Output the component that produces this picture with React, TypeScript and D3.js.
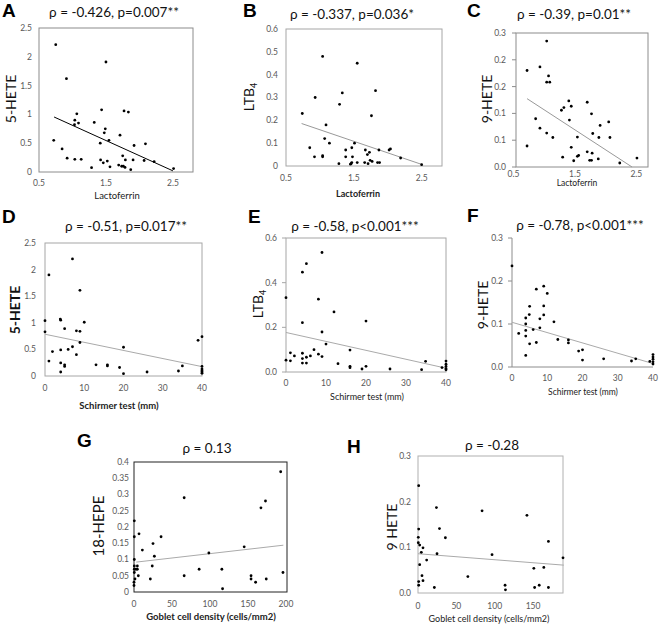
import React from 'react';
import * as d3 from 'd3';

// ---------- data ----------
const aX = [0.75,1.5,0.91,1.435,1.77,1.835,1.065,1.035,1.09,1.03,1.325,1.49,1.475,1.71,0.72,1.545,1.415,2.09,1.92,0.845,1.75,0.92,1.035,1.13,1.42,1.52,1.79,1.905,2.07,2.22,1.46,1.69,1.735,1.76,1.785,1.285,1.56,1.87,2.51];
const aY = [2.21,1.91,1.62,1.08,1.06,1.04,1.01,0.90,0.85,0.82,0.86,0.75,0.68,0.64,0.55,0.55,0.50,0.49,0.46,0.40,0.28,0.24,0.22,0.22,0.21,0.19,0.21,0.21,0.20,0.18,0.16,0.12,0.10,0.10,0.08,0.075,0.09,0.04,0.06];
const aTrendX = [0.725, 2.5];
const aTrendY = [0.955, 0.02];

const bX = [1.04,1.55,0.93,1.33,1.82,1.29,0.74,1.76,1.09,1.07,1.14,1.51,0.85,1.47,0.92,1.04,1.04,1.38,1.67,1.73,1.87,2.02,2.04,2.19,1.38,1.48,1.70,1.28,1.46,1.47,1.55,1.66,1.71,1.77,1.85,1.88,1.74,2.5,1.45];
const bY = [0.48,0.45,0.30,0.32,0.33,0.27,0.23,0.22,0.18,0.12,0.10,0.10,0.08,0.08,0.04,0.045,0.04,0.07,0.07,0.06,0.07,0.07,0.075,0.035,0.04,0.04,0.05,0.01,0.01,0.015,0.015,0.015,0.01,0.02,0.015,0.015,0.025,0.006,0.008];
const bTrendX = [0.73, 2.5];
const bTrendY = [0.186, 0.007];

const cX = [1.04,0.93,1.07,1.04,1.09,0.86,0.93,1.04,1.14,0.72,0.72,1.28,1.32,1.40,1.44,1.41,1.44,1.48,1.54,1.56,1.54,1.70,1.77,1.79,1.78,1.70,1.74,1.77,1.88,1.89,1.91,2.05,2.07,1.30,2.23,2.51];
const cY = [0.282,0.224,0.204,0.19,0.19,0.108,0.087,0.076,0.066,0.216,0.047,0.127,0.133,0.148,0.136,0.105,0.044,0.014,0.024,0.026,0.067,0.145,0.119,0.075,0.031,0.034,0.015,0.015,0.018,0.066,0.093,0.101,0.066,0.022,0.009,0.020];
const cTrendX = [0.72, 2.43];
const cTrendY = [0.153, 0];

const dX = [7,1,8.9,0,3.9,4,10,5,0,8,8.9,8.9,7,20,1.9,4,5.9,8,1,4,5,5,13,15.9,15.9,19,4,20,26,34,35,39,40,40,40,40,40,40];
const dY = [2.20,1.90,1.61,1.04,1.07,1.05,1.01,0.89,0.83,0.85,0.84,0.63,0.55,0.54,0.46,0.49,0.50,0.40,0.28,0.245,0.21,0.18,0.21,0.21,0.19,0.16,0.075,0.044,0.075,0.094,0.19,0.67,0.74,0.18,0.13,0.10,0.075,0.05];
const dTrendX = [0, 40];
const dTrendY = [0.785, 0.176];

const eX = [9,5.1,4.1,0,8.1,12,20,4.1,9,10,16,7,4.1,1.1,8.1,2.1,6.1,5.1,9,4.1,0,1.1,4.1,5.1,13,16,16,20,19,26,33.9,34.9,40,40,40,40,40,39];
const eY = [0.535,0.485,0.447,0.333,0.326,0.269,0.228,0.221,0.179,0.125,0.098,0.10,0.084,0.086,0.080,0.072,0.072,0.066,0.069,0.06,0.053,0.05,0.04,0.04,0.0375,0.0255,0.0195,0.0255,0.0135,0.0135,0.0105,0.048,0.049,0.035,0.025,0.015,0.01,0.02];
const eTrendX = [0, 40];
const eTrendY = [0.177, 0.017];

const fX = [0,9,6.9,10,5,9,4.9,9,3.9,7.9,11.9,3.9,6,7.9,3.9,1.9,3.9,6.9,5,13,16,16,18.9,20,20,3.9,26,33.9,35.1,39.1,40,40,40,40,40];
const fY = [0.235,0.188,0.181,0.171,0.141,0.142,0.122,0.121,0.114,0.112,0.105,0.10,0.087,0.091,0.085,0.078,0.072,0.057,0.054,0.064,0.063,0.056,0.037,0.040,0.016,0.027,0.019,0.014,0.019,0.013,0.029,0.023,0.018,0.012,0.007];
const fTrendX = [0, 40];
const fTrendY = [0.104, 0.008];

const gX = [193,66,173,167,0.4,6.6,0.4,35.6,25,11,145,98.5,26.8,0.4,0.4,4.4,24,0.4,2.6,4.4,85.7,115.6,0.4,196,5.7,66,154,154,174,21.5,1.3,160,0,0,116.5];
const gY = [0.37,0.29,0.28,0.259,0.219,0.179,0.17,0.17,0.149,0.129,0.139,0.12,0.11,0.10,0.08,0.08,0.08,0.07,0.07,0.07,0.07,0.07,0.06,0.06,0.05,0.05,0.05,0.04,0.04,0.04,0.04,0.03,0.03,0.02,0.01];
const gTrendX = [3, 196.5];
const gTrendY = [0.092, 0.144];

const hX = [0.9,24,83.5,142,0.9,28,35.7,0.4,170,0.4,2.2,6.5,4.3,24.8,96.5,189,11.3,2.2,164,151,5.2,65,6.5,0.9,0.9,158,113.5,21.3,152,170,114];
const hY = [0.235,0.187,0.18,0.17,0.14,0.141,0.121,0.122,0.113,0.11,0.105,0.099,0.089,0.086,0.084,0.077,0.072,0.062,0.056,0.054,0.038,0.036,0.027,0.025,0.017,0.017,0.017,0.012,0.012,0.012,0.007];
const hTrendX = [0, 190];
const hTrendY = [0.086, 0.061];

// tick values
const lactoTicks = [0.5, 1.5, 2.5];
const schirmerTicks = [0, 10, 20, 30, 40];
const gobletTicksG = [0, 50, 100, 150, 200];
const gobletTicksH = [0, 50, 100, 150];
const hete5Ticks = [0, 0.5, 1, 1.5, 2, 2.5];
const ltbTicksB = [0, 0.1, 0.2, 0.3, 0.4, 0.5, 0.6];
const ltbTicksE = [0, 0.2, 0.4, 0.6];
const hete9TicksC = [0, 0.06, 0.12, 0.18, 0.24, 0.3];
const hete9TicksF = [0, 0.1, 0.2, 0.3];
const hepeTicks = [0, 0.05, 0.1, 0.15, 0.2, 0.25, 0.3, 0.35, 0.4];

const titles = ['ρ = -0.426, p=0.007**', 'ρ = -0.337, p=0.036*', 'ρ = -0.39, p=0.01**', 'ρ = -0.51, p=0.017**', 'ρ = -0.58, p<0.001***', 'ρ = -0.78, p<0.001***', 'ρ = 0.13', 'ρ = -0.28'];

const FONT = 'Lato, "Open Sans", sans-serif';
const TICKC = '#595959';

const fmtPlain = (v: number) => String(v);
const fmt1 = d3.format('.1f');

type Cfg = {
  letter: string; lx: number; ly: number;
  title: string; tx: number; ty: number;
  left: number; right: number; top: number; bottom: number;
  xDomain: number[]; yDomain: number[];
  xTicks: number[]; yTicks: number[];
  xFmt: (v: number) => string; yFmt: (v: number) => string;
  xs: number[]; ys: number[]; trX: number[]; trY: number[];
  trendColor: string;
  xLabel: string; xlx: number; xly: number; xBold: boolean; xSize: number;
  yLabel: string; ySub?: string; ylx: number; yly: number; yBold: boolean; ySize: number;
  box: 'full' | 'lb'; boxColor: string; yTickMarks: boolean;
  yGap: number; xOff: number;
};

function Panel({ c }: { c: Cfg }) {
  const x = d3.scaleLinear().domain(c.xDomain).range([c.left, c.right]);
  const y = d3.scaleLinear().domain(c.yDomain).range([c.bottom, c.top]);
  const line = d3.line<number>().x((_, i) => x(c.trX[i])).y((_, i) => y(c.trY[i]));
  return (
    <g>
      <text x={c.lx} y={c.ly} fontFamily='"Liberation Sans", Arial, sans-serif' fontWeight="bold" fontSize={19}>{c.letter}</text>
      <text x={c.tx} y={c.ty} textAnchor="middle" fontFamily={FONT} fontSize={13.5} fill="#111">{c.title}</text>
      {c.box === 'full' ? (
        <rect x={c.left} y={c.top} width={c.right - c.left} height={c.bottom - c.top} fill="none" stroke={c.boxColor} strokeWidth={1} />
      ) : (
        <path d={`M${c.left},${c.top}V${c.bottom}H${c.right}`} fill="none" stroke={c.boxColor} strokeWidth={1} />
      )}
      {c.yTicks.map((t, i) => (
        <g key={'y' + i}>
          {c.yTickMarks && <line x1={c.left - 4} x2={c.left} y1={y(t)} y2={y(t)} stroke={c.boxColor} />}
          <text x={c.left - c.yGap} y={y(t)} dy="0.35em" textAnchor="end" fontFamily={FONT} fontSize={8.5} fill={TICKC}>{c.yFmt(t)}</text>
        </g>
      ))}
      {c.xTicks.map((t, i) => (
        <text key={'x' + i} x={x(t)} y={c.bottom + c.xOff} textAnchor="middle" fontFamily={FONT} fontSize={8.5} fill={TICKC}>{c.xFmt(t)}</text>
      ))}
      <path d={line(c.trX) || ''} fill="none" stroke={c.trendColor} strokeWidth={1} />
      {c.xs.map((v, i) => (
        <circle key={'p' + i} cx={x(v)} cy={y(c.ys[i])} r={1.4} fill="#000" />
      ))}
      <text x={c.xlx} y={c.xly} textAnchor="middle" fontFamily={FONT} fontSize={c.xSize} fontWeight={c.xBold ? 'bold' : 'normal'} fill="#222">{c.xLabel}</text>
      <text transform={`translate(${c.ylx},${c.yly}) rotate(-90)`} textAnchor="middle" dy="0.35em" fontFamily={FONT} fontSize={c.ySize} fontWeight={c.yBold ? 'bold' : 'normal'} fill="#111">
        {c.yLabel}
        {c.ySub && <tspan fontSize={c.ySize * 0.65} dy="0.3em">{c.ySub}</tspan>}
      </text>
    </g>
  );
}

const panels: Cfg[] = [
  {
    letter: 'A', lx: 2, ly: 17, title: titles[0], tx: 114, ty: 17,
    left: 39, right: 193, top: 28, bottom: 172, xDomain: [0.5, 2.8], yDomain: [0, 2.5],
    xTicks: lactoTicks, yTicks: hete5Ticks, xFmt: fmtPlain, yFmt: fmtPlain,
    xs: aX, ys: aY, trX: aTrendX, trY: aTrendY, trendColor: '#000',
    xLabel: 'Lactoferrin', xlx: 117, xly: 199, xBold: false, xSize: 9.5,
    yLabel: '5-HETE', ylx: 11, yly: 99, yBold: false, ySize: 14,
    box: 'full', boxColor: '#8c8c8c', yTickMarks: false, yGap: 7, xOff: 14,
  },
  {
    letter: 'B', lx: 243, ly: 17, title: titles[1], tx: 352, ty: 19,
    left: 286, right: 442, top: 29, bottom: 166, xDomain: [0.5, 2.8], yDomain: [0, 0.6],
    xTicks: lactoTicks, yTicks: ltbTicksB, xFmt: fmtPlain, yFmt: fmtPlain,
    xs: bX, ys: bY, trX: bTrendX, trY: bTrendY, trendColor: '#999',
    xLabel: 'Lactoferrin', xlx: 358, xly: 197, xBold: true, xSize: 9,
    yLabel: 'LTB', ySub: '4', ylx: 249, yly: 97, yBold: false, ySize: 14,
    box: 'full', boxColor: '#a6a6a6', yTickMarks: false, yGap: 8, xOff: 15,
  },
  {
    letter: 'C', lx: 467, ly: 17, title: titles[2], tx: 574, ty: 19,
    left: 516, right: 648, top: 33, bottom: 167, xDomain: [0.54, 2.69], yDomain: [0, 0.3],
    xTicks: lactoTicks, yTicks: hete9TicksC, xFmt: fmtPlain, yFmt: fmt1,
    xs: cX, ys: cY, trX: cTrendX, trY: cTrendY, trendColor: '#999',
    xLabel: 'Lactoferrin', xlx: 577, xly: 186, xBold: false, xSize: 8.5,
    yLabel: '9-HETE', ylx: 487, yly: 99, yBold: false, ySize: 14,
    box: 'full', boxColor: '#8c8c8c', yTickMarks: true, yGap: 10, xOff: 10,
  },
  {
    letter: 'D', lx: 2, ly: 223, title: titles[3], tx: 126, ty: 231,
    left: 45, right: 202, top: 243, bottom: 376, xDomain: [0, 40], yDomain: [0, 2.5],
    xTicks: schirmerTicks, yTicks: hete5Ticks, xFmt: fmtPlain, yFmt: fmtPlain,
    xs: dX, ys: dY, trX: dTrendX, trY: dTrendY, trendColor: '#aaa',
    xLabel: 'Schirmer test (mm)', xlx: 119, xly: 409, xBold: true, xSize: 9.5,
    yLabel: '5-HETE', ylx: 15, yly: 310, yBold: true, ySize: 14,
    box: 'full', boxColor: '#a6a6a6', yTickMarks: false, yGap: 9, xOff: 15,
  },
  {
    letter: 'E', lx: 248, ly: 223, title: titles[4], tx: 355, ty: 231,
    left: 286, right: 446, top: 238, bottom: 372, xDomain: [0, 40], yDomain: [0, 0.6],
    xTicks: schirmerTicks, yTicks: ltbTicksE, xFmt: fmtPlain, yFmt: fmt1,
    xs: eX, ys: eY, trX: eTrendX, trY: eTrendY, trendColor: '#aaa',
    xLabel: 'Schirmer test (mm)', xlx: 367, xly: 400, xBold: false, xSize: 9,
    yLabel: 'LTB', ySub: '4', ylx: 258, yly: 304, yBold: false, ySize: 14,
    box: 'full', boxColor: '#a6a6a6', yTickMarks: true, yGap: 9, xOff: 14,
  },
  {
    letter: 'F', lx: 467, ly: 222, title: titles[5], tx: 580, ty: 230,
    left: 512, right: 653, top: 238, bottom: 367, xDomain: [0, 40], yDomain: [0, 0.3],
    xTicks: schirmerTicks, yTicks: hete9TicksF, xFmt: fmtPlain, yFmt: fmt1,
    xs: fX, ys: fY, trX: fTrendX, trY: fTrendY, trendColor: '#aaa',
    xLabel: 'Schirmer test (mm)', xlx: 583, xly: 395, xBold: false, xSize: 8.5,
    yLabel: '9-HETE', ylx: 483, yly: 305, yBold: false, ySize: 14,
    box: 'lb', boxColor: '#8c8c8c', yTickMarks: true, yGap: 9, xOff: 14,
  },
  {
    letter: 'G', lx: 77, ly: 447, title: titles[6], tx: 207, ty: 453,
    left: 134, right: 287, top: 462, bottom: 592, xDomain: [0, 201.3], yDomain: [0, 0.4],
    xTicks: gobletTicksG, yTicks: hepeTicks, xFmt: fmtPlain, yFmt: fmtPlain,
    xs: gX, ys: gY, trX: gTrendX, trY: gTrendY, trendColor: '#aaa',
    xLabel: 'Goblet cell density (cells/mm2)', xlx: 211, xly: 620, xBold: true, xSize: 9.5,
    yLabel: '18-HEPE', ylx: 99, yly: 526, yBold: false, ySize: 15,
    box: 'full', boxColor: '#222', yTickMarks: false, yGap: 5, xOff: 15,
  },
  {
    letter: 'H', lx: 347, ly: 453, title: titles[7], tx: 492, ty: 450,
    left: 418, right: 563, top: 456, bottom: 593, xDomain: [0, 189], yDomain: [0, 0.3],
    xTicks: gobletTicksH, yTicks: hete9TicksF, xFmt: fmtPlain, yFmt: fmt1,
    xs: hX, ys: hY, trX: hTrendX, trY: hTrendY, trendColor: '#aaa',
    xLabel: 'Goblet cell density (cells/mm2)', xlx: 489, xly: 622, xBold: false, xSize: 9,
    yLabel: '9 HETE', ylx: 392, yly: 527, yBold: false, ySize: 14,
    box: 'full', boxColor: '#b0b0b0', yTickMarks: false, yGap: 7, xOff: 16,
  },
];

export default function App() {
  return (
    <svg width={660} height={625} style={{ position: 'absolute', left: 0, top: 0, background: '#fff' }}>
      <rect width={660} height={625} fill="#fff" />
      {panels.map((c) => (
        <Panel key={c.letter} c={c} />
      ))}
    </svg>
  );
}
